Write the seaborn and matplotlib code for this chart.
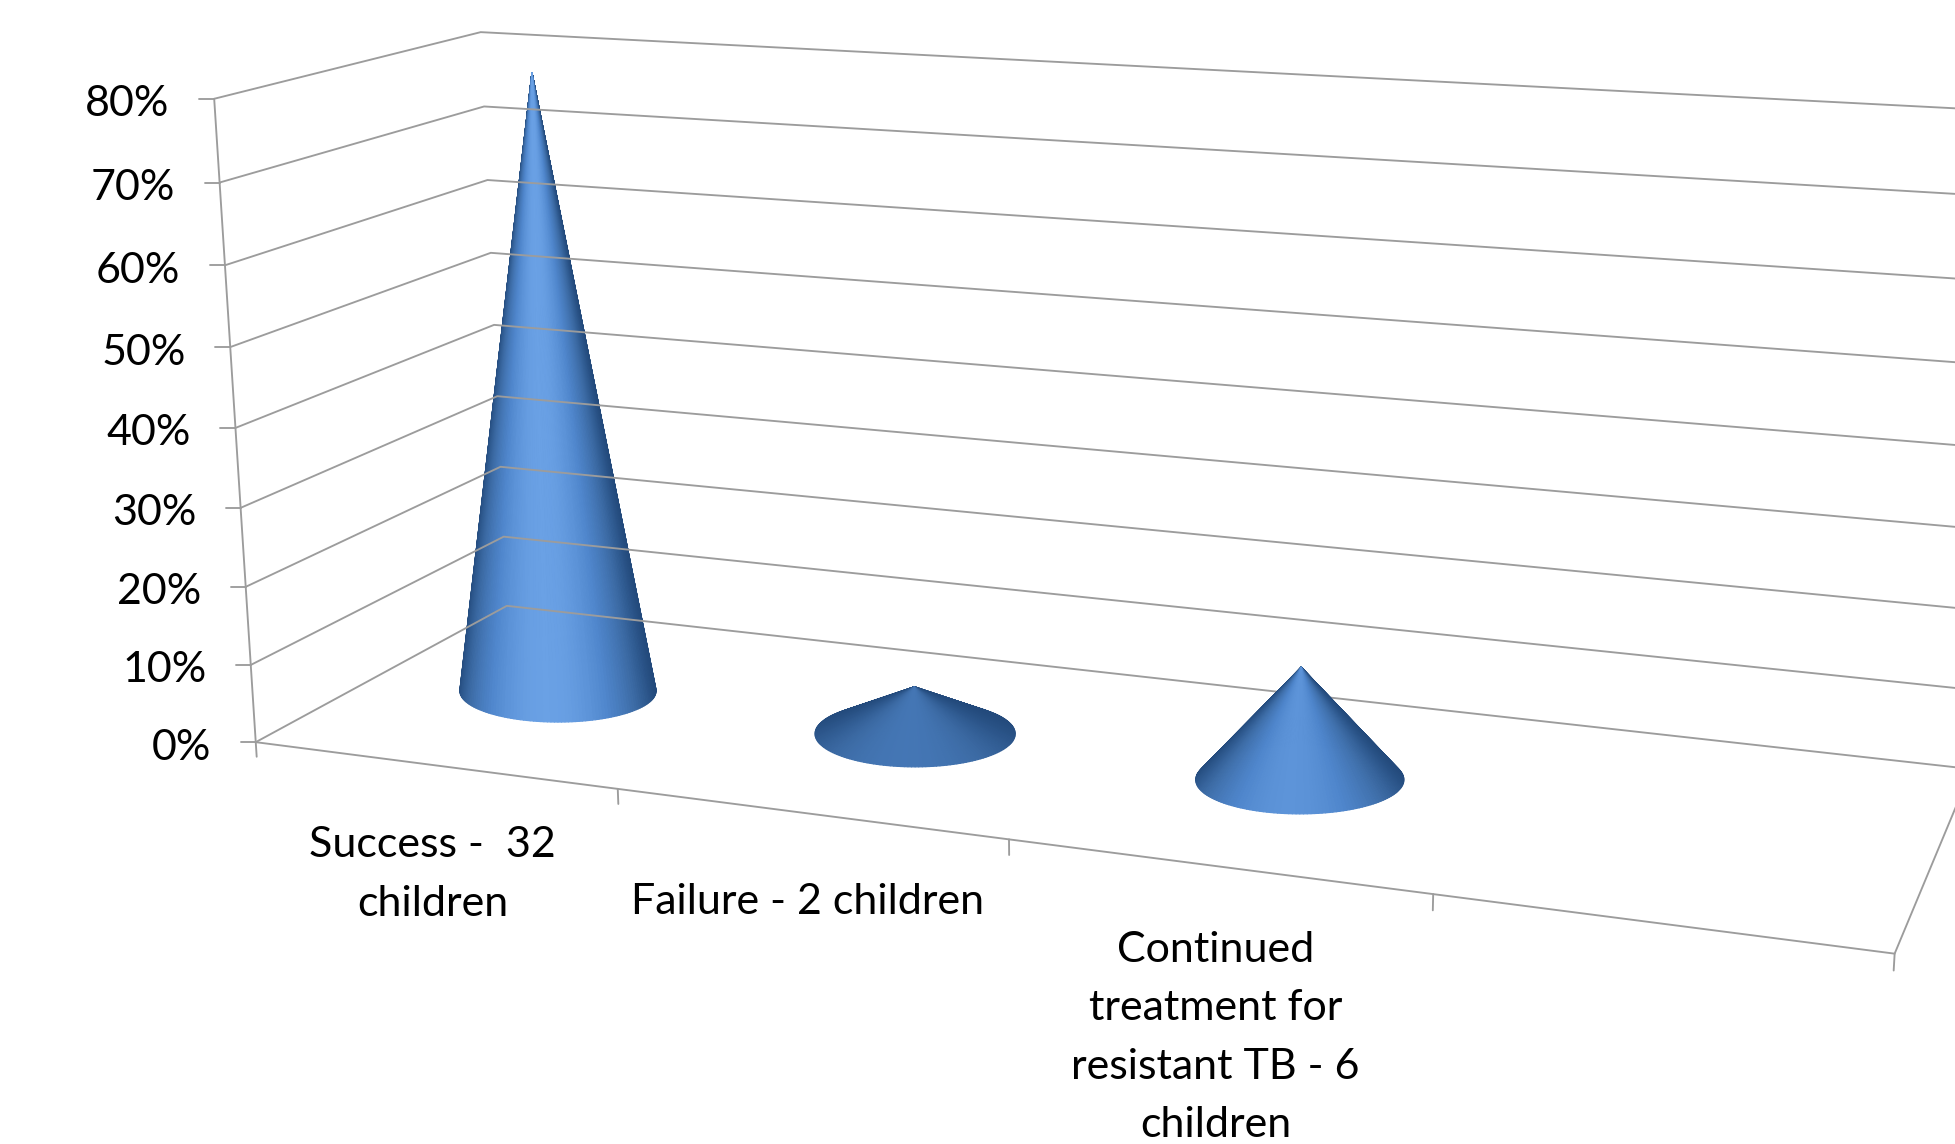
import numpy as np
import seaborn as sns
import matplotlib
matplotlib.use("Agg")
import matplotlib.pyplot as plt
from matplotlib.lines import Line2D
from matplotlib.transforms import Affine2D

# %% data
categories = ["Success -  32\nchildren", "Failure - 2 children",
              "Continued\ntreatment for\nresistant TB - 6\nchildren"]
values = [80, 6, 14]
value_ticks = [0, 10, 20, 30, 40, 50, 60, 70, 80]
value_labels = ["0%", "10%", "20%", "30%", "40%", "50%", "60%", "70%", "80%"]

# %% style
sns.set_style("white")
plt.rcParams["font.family"] = ["Lato", "DejaVu Sans"]
W, H = 1955, 1144
GREY = "#9c9c9c"
FONT = 31
UNIT = 4000  # keeps the projected coords inside the -1..1 range mplot3d wants

# box corners (category, depth, value) seen at these pixels, camera solved from them
box3d = np.array([(0, 0, 0), (0, 0, 10), (0, 0, 70), (0, 0, 80), (0, 1, 0), (0, 1, 40), (0, 1, 80),
                  (1, 0, 0), (2, 0, 0), (3, 0, 0), (4, 0, 0), (4, 1, 0), (4, 1, 80)], dtype=float)
box2d = np.array([(255.7, 741.7), (251.4, 664.3), (219.7, 182.7), (214, 99), (507, 607), (494, 324),
                  (480.7, 31.7), (617.5, 790), (1008.5, 839), (1432.4, 895), (1895.7, 952.7),
                  (1971.5, 768.5), (2012.6, 112)]) / UNIT
rows = []
for (x, y, z), (u, v) in zip(box3d, box2d):
    p = [x, y, z / 80, 1]
    rows.append(p + [0, 0, 0, 0] + [-u * c for c in p])
    rows.append([0, 0, 0, 0] + p + [-v * c for c in p])
P = np.linalg.svd(np.array(rows))[2][-1].reshape(3, 4)
P[:, 2] /= 80
P /= P[2, 3]
# third row only drives the facet sort: lower on screen is painted later
M = np.vstack([P[0], P[1], -P[1] + [0, 1e-4, 0, 0], P[2]])


def project(x, y, z):
    q = P @ np.array([x, y, z, 1.0])
    return q[0] / q[2] * UNIT, q[1] / q[2] * UNIT


def floor_offset(cx, cy, du, dv):
    # floor offset (category, depth) that lands du, dv pixels away from the centre
    eps = 1e-3
    u0, v0 = project(cx, cy, 0)
    ux, vx = project(cx + eps, cy, 0)
    uy, vy = project(cx, cy + eps, 0)
    J = np.array([[ux - u0, uy - u0], [vx - v0, vy - v0]]) / eps
    return np.linalg.inv(J) @ np.vstack([du.ravel(), dv.ravel()])


fig = plt.figure(figsize=(W / 100, H / 100), dpi=100)
ax = fig.add_subplot(projection="3d")
ax.set_position([0, 0, 1, 1])
ax.apply_aspect = lambda position=None: None
ax.get_proj = lambda: M
ax.viewLim.intervalx = (0, W / UNIT)
ax.viewLim.intervaly = (H / UNIT, 0)
ax.set_axis_off()
px_trans = Affine2D().scale(1 / W, -1 / H).translate(0, 1) + fig.transFigure

# %% walls and floor
lw = 1.35
for v in value_ticks:
    ax.plot([0, 0, 4], [0, 1, 1], [v, v, v], color=GREY, lw=lw)
ax.plot([0, 0], [0, 0], [0, 80], color=GREY, lw=lw)
ax.plot([0, 4, 4], [0, 0, 1], [0, 0, 0], color=GREY, lw=lw)
for i in range(5):
    ax.plot([i, i], [0, 0], [0, -1.9], color=GREY, lw=lw)
for v, lab in zip(value_ticks, value_labels):
    px, py = project(0, 0, v)
    ax.add_artist(Line2D([px - 15, px], [py, py], color=GREY, lw=lw, transform=px_trans))
    ax.text2D(px - 44.5, py + 5.5, lab, ha="right", va="center", fontsize=FONT,
              color="black", transform=px_trans)

# %% cones
cmap = sns.blend_palette(["#234a7c", "#3d6ca6", "#4f86cc", "#6ba2e6"], as_cmap=True)
light = np.array([-0.1, -0.95, 0.3])
half_width = [98, 100, 104]
half_depth = [31, 33, 34]
theta = np.linspace(0, 2 * np.pi, 181)
frac = np.array([0.0, 1.0])
for i, val in enumerate(values):
    T, F = np.meshgrid(theta, frac)
    # front of the base (sin < 0 on the floor) is the low side of the ellipse on screen
    dx, dy = floor_offset(i + 0.5, 0.5, half_width[i] * F * np.cos(T), -half_depth[i] * F * np.sin(T))
    X = i + 0.5 + dx.reshape(T.shape)
    Y = 0.5 + dy.reshape(T.shape)
    Z = val * (1 - F)
    hr = val / 12.7
    tm = (T[:, :-1] + T[:, 1:]) / 2
    n = np.stack([np.cos(tm) * hr, np.sin(tm) * hr, np.ones_like(tm)], axis=-1)
    n /= np.linalg.norm(n, axis=-1, keepdims=True)
    shade = np.clip(n @ light, 0, 1) ** 2
    colors = np.ones(X.shape + (4,))
    colors[:, :-1] = cmap(shade)
    colors[:, -1] = colors[:, 0]
    ax.plot_surface(X, Y, Z, facecolors=colors, rstride=1, cstride=1, shade=False,
                    linewidth=0.9)

# %% category labels
label_x = [432.6, 808, 1215.6]
label_y = [874.5, 901.5, 1037.5]
for s, x, y in zip(categories, label_x, label_y):
    ax.text2D(x, y, s, ha="center", va="center", multialignment="center", fontsize=FONT,
              linespacing=1.65, color="black", transform=px_trans)

fig.savefig("out.png", dpi=100)
